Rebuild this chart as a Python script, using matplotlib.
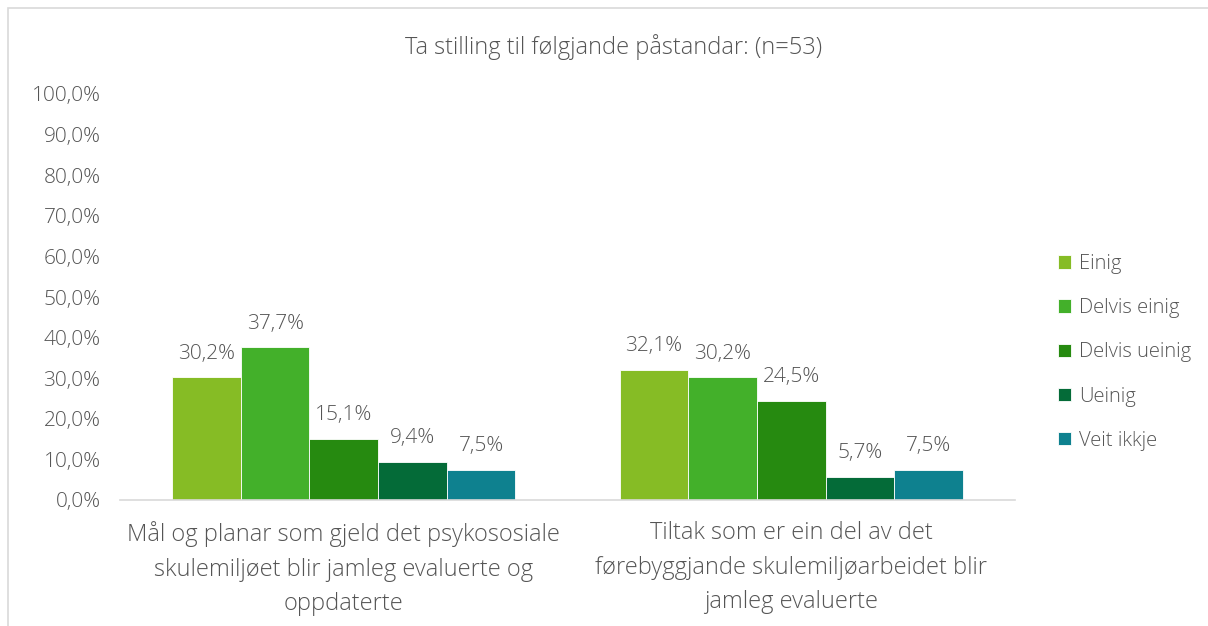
import matplotlib
matplotlib.use("Agg")
import matplotlib.pyplot as plt
from matplotlib.patches import Rectangle
import numpy as np

categories = ["Mål og planar som gjeld det psykososiale\nskulemiljøet blir jamleg evaluerte og\noppdaterte",
              "Tiltak som er ein del av det\nførebyggjande skulemiljøarbeidet blir\njamleg evaluerte"]
series = ["Einig", "Delvis einig", "Delvis ueinig", "Ueinig", "Veit ikkje"]
values = {
    "Einig": [30.2, 32.1],
    "Delvis einig": [37.7, 30.2],
    "Delvis ueinig": [15.1, 24.5],
    "Ueinig": [9.4, 5.7],
    "Veit ikkje": [7.5, 7.5],
}
colors = ["#86BC25", "#43B02A", "#268A10", "#046B38", "#0E818F"]
title = "Ta stilling til følgjande påstandar: (n=53)"

plt.rcParams['font.family'] = ['Open Sans', 'DejaVu Sans']
plt.rcParams['font.weight'] = 'light'
txt = "#555555"

fig = plt.figure(figsize=(12.08, 6.26), dpi=100)
fig.patches.append(Rectangle((8/1208, -0.1), 1.2, 1.1 - 8/626, transform=fig.transFigure,
                             fill=False, edgecolor="#D9D9D9", linewidth=1.2))
ax = fig.add_axes([120/1208, 1 - 500/626, (1015-120)/1208, (500-94)/626])

x = np.arange(len(categories))
w = 0.767 / len(series)
for i, s in enumerate(series):
    pos = x + (i - (len(series)-1)/2) * w
    bars = ax.bar(pos, values[s], width=w, color=colors[i], label=s,
                  edgecolor="white", linewidth=0.6)
    for b, v in zip(bars, values[s]):
        ax.text(b.get_x() + b.get_width()/2, v + 3.3, f"{v:.1f}%".replace(".", ","),
                ha="center", va="bottom", fontsize=15, color=txt, fontweight="light")

ax.set_xlim(-0.5, 1.5)
ax.set_ylim(0, 100)
ax.set_yticks(np.arange(0, 101, 10))
ax.set_yticklabels([f"{t:.1f}%".replace(".", ",") for t in np.arange(0, 101, 10)], fontweight="light")
ax.set_xticks(x)
ax.set_xticklabels(categories, linespacing=1.6, fontweight="light")
ax.tick_params(axis='y', length=0, labelsize=15, labelcolor=txt, pad=14)
ax.tick_params(axis='x', length=0, labelsize=17, labelcolor=txt, pad=15)
for sp in ["top", "right", "left"]:
    ax.spines[sp].set_visible(False)
ax.spines["bottom"].set_color("#D9D9D9")
ax.spines["bottom"].set_linewidth(1.2)

fig.text(614/1208, 1 - 47/626, title, ha="center", va="center", fontsize=17, color=txt,
         fontweight="light")

leg = ax.legend(loc="upper left", bbox_to_anchor=(1040/1208, 1 - 236/626), bbox_transform=fig.transFigure,
                frameon=False, fontsize=14.5, labelspacing=1.2, handlelength=0.65, handleheight=0.65,
                handletextpad=0.4, labelcolor=txt, prop={'weight': 'light', 'size': 14.5})

fig.savefig("out.png", dpi=100)
